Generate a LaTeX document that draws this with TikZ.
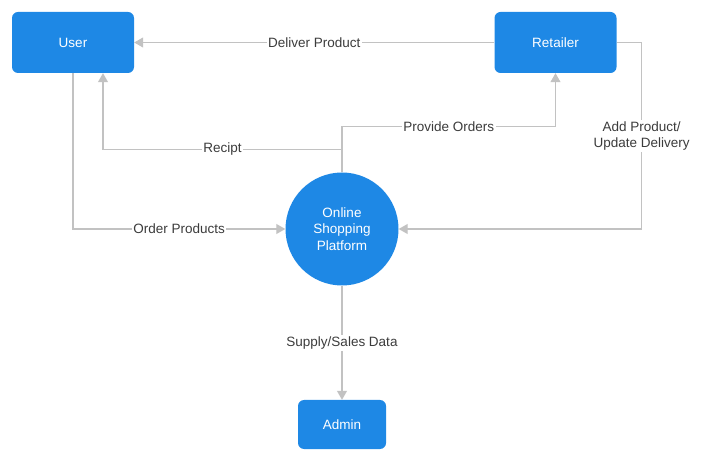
\documentclass[tikz,border=0pt]{standalone}
\usepackage{fontspec}
\setmainfont{Liberation Sans}
\usetikzlibrary{positioning,arrows.meta}
\definecolor{boxblue}{HTML}{1E88E5}
\definecolor{linegray}{HTML}{C2C2C2}
\definecolor{textgray}{HTML}{3C3C3C}
\tikzset{%
  entity/.style={fill=boxblue,rounded corners=6pt,text=white,inner sep=0pt,
    font=\fontsize{13.5}{16}\selectfont},
  process/.style={circle,fill=boxblue,text=white,inner sep=0pt,minimum size=113pt,
    align=center,font=\fontsize{13.5}{16.5}\selectfont},
  flow/.style={draw=linegray,line width=1.1pt,-{Triangle[length=9pt,width=10pt]}},
  lbl/.style={fill=white,text=textgray,inner sep=1.5pt,font=\fontsize{13.5}{16}\selectfont}
}

\begin{document}
\begin{tikzpicture}[x=1pt,y=-1pt]
  \useasboundingbox (0,0) rectangle (702,462);

  \node[entity,minimum width=122pt,minimum height=61pt] (user) at (73,42.5) {User};
  \node[entity,minimum width=122pt,minimum height=61pt] (retailer) at (555.5,42.5) {Retailer};
  \node[process] (platform) at (342,229) {Online\\Shopping\\Platform};
  \node[entity,minimum width=88pt,minimum height=49pt] (admin) at (342,424.5) {Admin};

  \draw[flow] (retailer.west) -- (user.east) node[lbl,midway] {Deliver Product};
  \draw[flow] (platform.north) -- ++(0,-23) -| ([xshift=30pt]user.south)
    node[lbl,pos=0.25] {Recipt};
  \draw[flow] (platform.north) -- ++(0,-46) -| (retailer.south)
    node[lbl,pos=0.25] {Provide Orders};
  \draw[flow] (user.south) |- (platform.west) node[lbl,pos=0.75] {Order Products};
  \draw[flow] (retailer.east) -- ++(25,0) |- (platform.east)
    node[lbl,pos=0.25,align=center] {Add Product/\\Update Delivery};
  \draw[flow] (platform.south) -- (admin.north) node[lbl,midway] {Supply/Sales Data};
\end{tikzpicture}
\end{document}
